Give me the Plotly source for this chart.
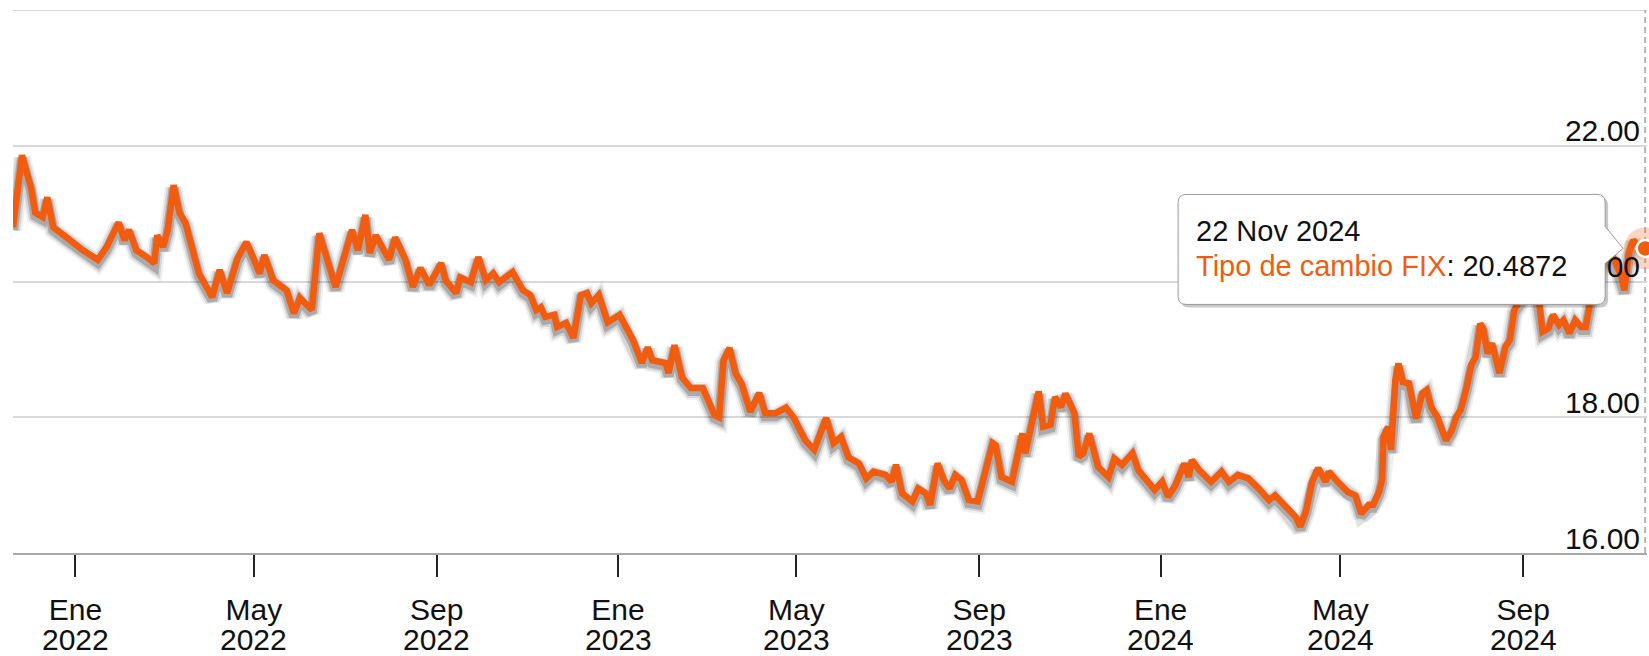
import plotly.graph_objects as go

# ---------------- data ----------------
dates = [
    "2021-11-20", "2021-11-26", "2021-11-30", "2021-12-02", "2021-12-05", "2021-12-10", "2021-12-13", "2021-12-17", "2021-12-26",
    "2022-01-06", "2022-01-16", "2022-01-22", "2022-01-30", "2022-02-03", "2022-02-06", "2022-02-11", "2022-02-18", "2022-02-23", "2022-02-25",
    "2022-03-01", "2022-03-04", "2022-03-08", "2022-03-12", "2022-03-16", "2022-03-25", "2022-03-30",
    "2022-04-03", "2022-04-08", "2022-04-13", "2022-04-20", "2022-04-26",
    "2022-05-05", "2022-05-08", "2022-05-14", "2022-05-23", "2022-05-28",
    "2022-06-01", "2022-06-09", "2022-06-14", "2022-06-25",
    "2022-07-06", "2022-07-10", "2022-07-15", "2022-07-18", "2022-07-22", "2022-07-31",
    "2022-08-04", "2022-08-11", "2022-08-16", "2022-08-21", "2022-08-27",
    "2022-09-04", "2022-09-07", "2022-09-14", "2022-09-17", "2022-09-24", "2022-09-29",
    "2022-10-04", "2022-10-09", "2022-10-13", "2022-10-22", "2022-10-29",
    "2022-11-03", "2022-11-07", "2022-11-10", "2022-11-13", "2022-11-19", "2022-11-21", "2022-11-27",
    "2022-12-02", "2022-12-07", "2022-12-11", "2022-12-14", "2022-12-19", "2022-12-25",
    "2023-01-02", "2023-01-11", "2023-01-17", "2023-01-21", "2023-01-24",
    "2023-02-02", "2023-02-04", "2023-02-08", "2023-02-13", "2023-02-19", "2023-02-27",
    "2023-03-07", "2023-03-10", "2023-03-13", "2023-03-17", "2023-03-21", "2023-03-25", "2023-03-31",
    "2023-04-06", "2023-04-10", "2023-04-17", "2023-04-24", "2023-04-29",
    "2023-05-07", "2023-05-13", "2023-05-21", "2023-05-26", "2023-05-31",
    "2023-06-05", "2023-06-12", "2023-06-17", "2023-06-22", "2023-06-30",
    "2023-07-04", "2023-07-07", "2023-07-11", "2023-07-18", "2023-07-22", "2023-07-27", "2023-07-30",
    "2023-08-04", "2023-08-08", "2023-08-12", "2023-08-16", "2023-08-20", "2023-08-25", "2023-08-31",
    "2023-09-05", "2023-09-10", "2023-09-12", "2023-09-16", "2023-09-23", "2023-09-30",
    "2023-10-02", "2023-10-05", "2023-10-09", "2023-10-11", "2023-10-14", "2023-10-19", "2023-10-22", "2023-10-26", "2023-10-29",
    "2023-11-04", "2023-11-07", "2023-11-10", "2023-11-14", "2023-11-17", "2023-11-20", "2023-11-27",
    "2023-12-01", "2023-12-06", "2023-12-13", "2023-12-17", "2023-12-22", "2023-12-28",
    "2024-01-02", "2024-01-06", "2024-01-11", "2024-01-17", "2024-01-20", "2024-01-22", "2024-01-27",
    "2024-02-04", "2024-02-11", "2024-02-16", "2024-02-22", "2024-02-29",
    "2024-03-07", "2024-03-14", "2024-03-18", "2024-03-26", "2024-04-01",
    "2024-04-04", "2024-04-08", "2024-04-12", "2024-04-16", "2024-04-21", "2024-04-23", "2024-04-30",
    "2024-05-06", "2024-05-11", "2024-05-15", "2024-05-20", "2024-05-23", "2024-05-27", "2024-05-29", "2024-05-30",
    "2024-06-02", "2024-06-04", "2024-06-07", "2024-06-09", "2024-06-12", "2024-06-16", "2024-06-19", "2024-06-21", "2024-06-25", "2024-06-28",
    "2024-07-01", "2024-07-05", "2024-07-11", "2024-07-15", "2024-07-18", "2024-07-21", "2024-07-25", "2024-07-28", "2024-07-31",
    "2024-08-03", "2024-08-05", "2024-08-08", "2024-08-11", "2024-08-13", "2024-08-16", "2024-08-20", "2024-08-23", "2024-08-26", "2024-08-31",
    "2024-09-04", "2024-09-09", "2024-09-12", "2024-09-14", "2024-09-18", "2024-09-21", "2024-09-25", "2024-09-28",
    "2024-10-02", "2024-10-06", "2024-10-10", "2024-10-13", "2024-10-16", "2024-10-19", "2024-10-24", "2024-10-28",
    "2024-11-01", "2024-11-06", "2024-11-08", "2024-11-11", "2024-11-14", "2024-11-18", "2024-11-22",
]

fix_values = [
    20.80, 21.86, 21.54, 21.39, 21.01, 20.95, 21.24, 20.80, 20.65,
    20.46, 20.32, 20.51, 20.87, 20.61, 20.76, 20.46, 20.36, 20.27, 20.68,
    20.51, 20.76, 21.42, 21.01, 20.86, 20.12, 19.92,
    19.77, 20.17, 19.83, 20.34, 20.58,
    20.12, 20.39, 20.02, 19.87, 19.53,
    19.76, 19.58, 20.71, 19.92,
    20.76, 20.46, 20.98, 20.42, 20.68, 20.32,
    20.65, 20.32, 19.92, 20.20, 19.95,
    20.27, 20.02, 19.83, 20.06, 19.99, 20.36,
    20.02, 20.12, 19.99, 20.14, 19.87,
    19.80, 19.58, 19.62, 19.48, 19.51, 19.33, 19.39,
    19.17, 19.80, 19.83, 19.68, 19.80, 19.40,
    19.51, 19.14, 18.80, 19.03, 18.84,
    18.80, 18.65, 19.06, 18.59, 18.43, 18.43,
    18.03, 18.00, 18.84, 19.02, 18.65, 18.50, 18.08,
    18.36, 18.06, 18.06, 18.14, 18.00,
    17.66, 17.52, 17.99, 17.62, 17.71,
    17.41, 17.32, 17.10, 17.20, 17.15,
    17.05, 17.30, 16.88, 16.76, 16.95, 16.88, 16.71,
    17.32, 17.08, 16.95, 17.15, 17.08, 16.78, 16.76,
    17.22, 17.62, 17.59, 17.12, 17.05, 17.76,
    17.47, 17.76, 18.25, 18.38, 17.86, 17.89, 18.30, 18.15, 18.35,
    18.06, 17.42, 17.47, 17.76, 17.47, 17.27, 17.12,
    17.39, 17.30, 17.47, 17.22, 17.08, 16.93,
    17.05, 16.83, 17.00, 17.32, 17.12, 17.37, 17.22,
    17.05, 17.20, 17.05, 17.15, 17.10,
    16.95, 16.78, 16.85, 16.66, 16.53,
    16.39, 16.63, 17.05, 17.25, 17.05, 17.20, 17.03,
    16.90, 16.85, 16.58, 16.71, 16.71, 16.90, 17.08, 17.71,
    17.86, 17.52, 18.55, 18.79, 18.52, 18.50, 18.11, 17.98, 18.35, 18.40,
    18.15, 18.01, 17.66, 17.81, 18.01, 18.11, 18.45, 18.77, 18.89,
    19.38, 19.31, 18.94, 19.09, 18.94, 18.65, 19.04, 19.14, 19.58, 19.77,
    19.87, 19.97, 19.63, 19.26, 19.31, 19.51, 19.36, 19.43,
    19.24, 19.43, 19.33, 19.33, 19.68, 20.02, 20.27, 20.44,
    20.34, 20.07, 19.87, 20.41, 20.61, 20.51, 20.4872,
]

series_name = "Tipo de cambio FIX"
tooltip_date = "22 Nov 2024"

x_tick_dates = ["2022-01-01", "2022-05-01", "2022-09-01", "2023-01-01", "2023-05-01",
                "2023-09-01", "2024-01-01", "2024-05-01", "2024-09-01"]
x_tick_months = ["Ene", "May", "Sep", "Ene", "May", "Sep", "Ene", "May", "Sep"]
x_tick_years = ["2022", "2022", "2022", "2023", "2023", "2023", "2024", "2024", "2024"]
y_tick_values = [16, 18, 20, 22]
y_tick_labels = ["16.00", "18.00", "20.00", "22.00"]
y_top = 24

# ---------------- style ----------------
ORANGE = "#F25C0F"
FONT = "Liberation Sans, Arial, Helvetica, sans-serif"
PX_PER_UNIT = 67.9  # vertical pixels per peso on this chart
shadow_y = [v - 3 / PX_PER_UNIT for v in fix_values]

fig = go.Figure()

# soft drop shadow under the line
for w, a in [(18, 0.06), (14, 0.11), (10, 0.2)]:
    fig.add_trace(go.Scatter(x=dates, y=shadow_y, mode="lines",
                             line=dict(color=f"rgba(0,0,0,{a})", width=w), hoverinfo="skip"))
# main line
fig.add_trace(go.Scatter(x=dates, y=fix_values, mode="lines", name=series_name,
                         line=dict(color=ORANGE, width=6.5)))
# hovered point: halo + marker
fig.add_trace(go.Scatter(x=[dates[-1]], y=[fix_values[-1]], mode="markers",
                         marker=dict(size=42, color="rgba(242,92,15,0.25)"),
                         cliponaxis=False, hoverinfo="skip"))
fig.add_trace(go.Scatter(x=[dates[-1]], y=[fix_values[-1]], mode="markers",
                         marker=dict(size=17, color=ORANGE, line=dict(color="white", width=2.5)),
                         cliponaxis=False, hoverinfo="skip"))

last_x, last_y = dates[-1], fix_values[-1]

# top grid line
fig.add_shape(type="line", xref="paper", yref="y", x0=0, x1=1, y0=y_top, y1=y_top,
              line=dict(color="#d9d9d9", width=2), layer="below")
# crosshair
fig.add_shape(type="line", xref="x", yref="paper", x0=last_x, x1=last_x, y0=0, y1=1,
              line=dict(color="#b5b5b5", width=2, dash="6px,4px"), layer="below")

# tooltip box (pixel offsets relative to the hovered point)
L, R, T, B, r = -467, -40, 54, -56, 8
box_path = (f"M {L+r},{T} L {R-r},{T} Q {R},{T} {R},{T-r} L {R},22 L -22,0 L {R},-15 "
            f"L {R},{B+r} Q {R},{B} {R-r},{B} L {L+r},{B} Q {L},{B} {L},{B+r} "
            f"L {L},{T-r} Q {L},{T} {L+r},{T} Z")
sh = 3
shadow_path = (f"M {L+r+sh},{T-sh} L {R-r+sh},{T-sh} Q {R+sh},{T-sh} {R+sh},{T-r-sh} "
               f"L {R+sh},{B+r-sh} Q {R+sh},{B-sh} {R-r+sh},{B-sh} L {L+r+sh},{B-sh} "
               f"Q {L+sh},{B-sh} {L+sh},{B+r-sh} L {L+sh},{T-r-sh} Q {L+sh},{T-sh} {L+r+sh},{T-sh} Z")
for path, fill, line in [(shadow_path, "rgba(0,0,0,0.22)", dict(width=0)),
                         (box_path, "white", dict(color="#9a9a9a", width=1))]:
    fig.add_shape(type="path", path=path, xref="x", yref="y",
                  xsizemode="pixel", ysizemode="pixel",
                  xanchor=last_x, yanchor=last_y,
                  fillcolor=fill, line=line, layer="above")

fig.add_annotation(x=last_x, y=last_y, xref="x", yref="y", showarrow=False,
                   xanchor="left", yanchor="middle", xshift=-451, yshift=17,
                   text=tooltip_date, font=dict(family=FONT, size=29, color="#111"))
fig.add_annotation(x=last_x, y=last_y, xref="x", yref="y", showarrow=False,
                   xanchor="left", yanchor="middle", xshift=-451, yshift=-18,
                   text=f"<span style='color:{ORANGE}'>{series_name}</span>: {last_y:.4f}",
                   font=dict(family=FONT, size=29, color="#111"))

# year line of the x tick labels
for xd, yr in zip(x_tick_dates, x_tick_years):
    fig.add_annotation(x=xd, y=-0.159, xref="x", yref="paper", showarrow=False,
                       xanchor="center", yanchor="middle", text=yr, borderpad=0,
                       font=dict(family=FONT, size=30, color="#111"))

fig.update_layout(
    width=1649, height=656,
    margin=dict(l=13, r=2, t=10, b=103),
    paper_bgcolor="white", plot_bgcolor="white",
    showlegend=False, hovermode=False,
    font=dict(family=FONT, color="#111"),
)
fig.update_xaxes(
    type="date", range=["2021-11-19 23:00", "2024-11-23 06:00"],
    tickvals=x_tick_dates, ticktext=x_tick_months,
    ticks="outside", ticklen=22, tickwidth=2, tickcolor="#222",
    tickfont=dict(family=FONT, size=30, color="#111"),
    ticklabelstandoff=7,
    showgrid=False, showline=True, linecolor="#a8a8a8", linewidth=2,
    zeroline=False, automargin=False,
)
fig.update_yaxes(
    range=[16, 24], side="right", tickvals=y_tick_values, ticktext=y_tick_labels,
    ticklabelposition="inside", ticks="", ticklabelshift=-15, ticklabelstandoff=4,
    ticklabeloverflow="allow",
    tickfont=dict(family=FONT, size=30, color="#111"),
    showgrid=True, gridcolor="#d9d9d9", gridwidth=2,
    zeroline=False, showline=False, automargin=False,
)

fig.write_html("out.html", config={"displayModeBar": False},
               post_script="document.body.style.margin='0px';")
